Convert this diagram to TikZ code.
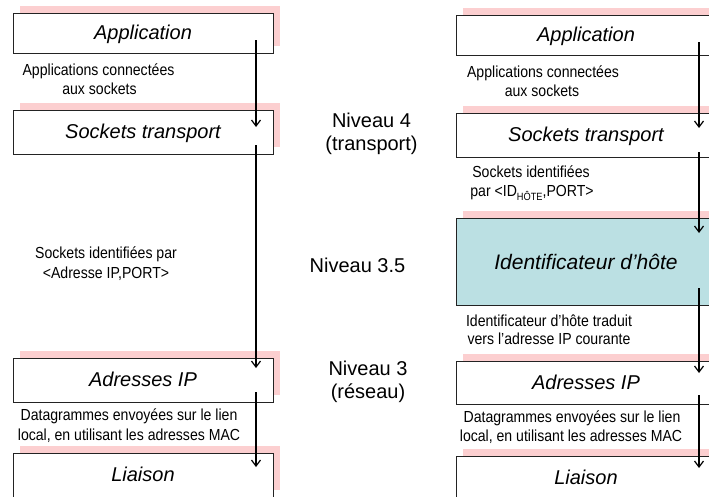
\documentclass[tikz,border=0pt]{standalone}
\usepackage{fontspec}
\setmainfont{Liberation Sans}
\newfontfamily\narrowfont[FakeStretch=0.88]{Liberation Sans}
\usetikzlibrary{arrows.meta,shadows}
\definecolor{shadowpink}{RGB}{252,207,208}
\definecolor{hostcyan}{RGB}{187,224,227}
\definecolor{boxline}{RGB}{35,35,35}
\begin{document}
\begin{tikzpicture}[x=1pt,y=-1pt,
  layerbox/.style={draw=boxline, line width=0.8pt, fill=white, minimum width=260pt,
    inner sep=0pt, outer sep=0pt, anchor=north west,
    text height=13.6pt, text depth=0pt,
    font=\fontsize{20}{23}\selectfont\itshape,
    general shadow={shadow xshift=7pt, shadow yshift=7pt, fill=shadowpink}},
  note/.style={anchor=base, inner sep=0pt, font=\narrowfont\fontsize{16}{19}\selectfont},
  level/.style={anchor=base, inner sep=0pt, font=\fontsize{20}{24}\selectfont},
  flow/.style={line width=1.2pt, -{Straight Barb[length=6pt,width=9pt,line width=1.2pt]}}
]
\clip (0,0) rectangle (709,496);
\fill[white] (0,0) rectangle (709,496);

% ---- left stack ----
\node[layerbox, minimum height=40pt] (appL) at (13,13) {Application};
\node[layerbox, minimum height=44pt] (sockL) at (13,110) {Sockets transport};
\node[layerbox, minimum height=44pt] (ipL) at (13,358) {Adresses IP};
\node[layerbox, minimum height=44pt] (linkL) at (13,453) {Liaison};

\node[note] (nL1a) at (98.5,75) {Applications connectées};
\node[note] (nL1b) at (99.5,94) {aux sockets};
\node[note] (nL2a) at (106,258) {Sockets identifiées par};
\node[note] (nL2b) at (106,278) {<Adresse IP,PORT>};
\node[note] (nL3a) at (129,420) {Datagrammes envoyées sur le lien};
\node[note] (nL3b) at (129,440) {local, en utilisant les adresses MAC};

\coordinate (aL1s) at (256,40);  \coordinate (aL1e) at (256,127);
\coordinate (aL2s) at (256,145); \coordinate (aL2e) at (256,368);
\coordinate (aL3s) at (256,392); \coordinate (aL3e) at (256,467);
\draw[flow] (aL1s) -- (aL1e);
\draw[flow] (aL2s) -- (aL2e);
\draw[flow] (aL3s) -- (aL3e);

% ---- middle levels ----
\node[level] (lv4a) at (371.5,127) {Niveau 4};
\node[level] (lv4b) at (371.5,150) {(transport)};
\node[level] (lv35) at (357.5,272) {Niveau 3.5};
\node[level] (lv3a) at (368,375) {Niveau 3};
\node[level] (lv3b) at (368,398) {(réseau)};

% ---- right stack ----
\node[layerbox, minimum height=40pt] (appR) at (456,15) {Application};
\node[layerbox, minimum height=44pt] (sockR) at (456,113) {Sockets transport};
\node[layerbox, minimum height=87pt, fill=hostcyan, text height=15pt,
      font=\fontsize{21}{24}\selectfont\itshape] (hostR) at (456,218) {Identificateur d’hôte};
\node[layerbox, minimum height=43pt] (ipR) at (456,361) {Adresses IP};
\node[layerbox, minimum height=44pt] (linkR) at (456,456) {Liaison};

\node[note] (nR1a) at (543,77) {Applications connectées};
\node[note] (nR1b) at (542,96) {aux sockets};
\node[note] (nR2a) at (531,177) {Sockets identifiées};
\node[note] (nR2b) at (532,196) {par <ID\raisebox{-4pt}{\fontsize{10.5}{10.5}\selectfont HÔTE},PORT>};
\node[note] (nR3a) at (549,326) {Identificateur d’hôte traduit};
\node[note] (nR3b) at (549,344) {vers l’adresse IP courante};
\node[note] (nR4a) at (572,422) {Datagrammes envoyées sur le lien};
\node[note] (nR4b) at (571,441) {local, en utilisant les adresses MAC};

\coordinate (aR1s) at (699,42);  \coordinate (aR1e) at (699,128);
\coordinate (aR2s) at (699,152); \coordinate (aR2e) at (699,233);
\coordinate (aR3s) at (699,288); \coordinate (aR3e) at (699,373);
\coordinate (aR4s) at (699,395); \coordinate (aR4e) at (699,468);
\draw[flow] (aR1s) -- (aR1e);
\draw[flow] (aR2s) -- (aR2e);
\draw[flow] (aR3s) -- (aR3e);
\draw[flow] (aR4s) -- (aR4e);
\end{tikzpicture}
\end{document}
